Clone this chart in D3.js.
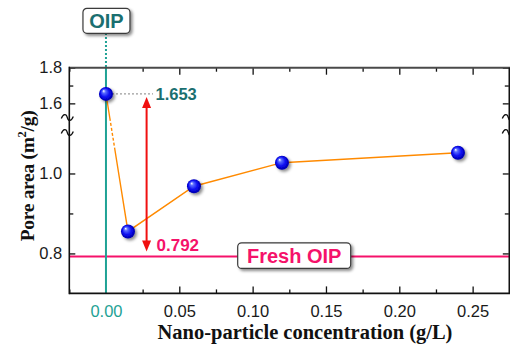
<!DOCTYPE html>
<html>
<head>
<meta charset="utf-8">
<script src="https://cdn.jsdelivr.net/npm/d3@7"></script>
<style>
  html, body { margin: 0; padding: 0; background: #fff; }
  svg { display: block; }
</style>
</head>
<body>
<svg id="chart" width="510" height="350"></svg>
<script>
// Pore area vs. nano-particle concentration
const concentration = [0.0, 0.015, 0.06, 0.12, 0.24];   // g/L
const poreArea      = [1.653, 0.855, 0.968, 1.027, 1.052]; // m²/g
const freshOIP      = 0.792;
const xMajorTicks   = [0.0, 0.05, 0.10, 0.15, 0.20, 0.25];
const xMinorTicks   = [-0.025, 0.025, 0.075, 0.125, 0.175, 0.225, 0.275];
const yMajorTicks   = [0.8, 1.0, 1.6, 1.8];
const yMinorTicks   = [0.9, 1.7];
const xTickLabels   = ["0.00", "0.05", "0.10", "0.15", "0.20", "0.25"];

const svg = d3.select("#chart");
const plotLeft = 69.3, plotRight = 509.3, plotTop = 67.7, plotBottom = 293.4;

const teal = "#1fa295", darkTeal = "#1a6f70", pink = "#f5126a", orange = "#ff8a00";

const x = d3.scaleLinear().domain([-0.025, 0.275]).range([plotLeft, plotRight]);
// broken y axis: lower segment 0.7–1.1, upper segment 1.5–1.8
const y = d3.scaleLinear().domain([0.7, 1.1, 1.5, 1.8]).range([plotBottom, 133.5, 121.2, plotTop]);

const defs = svg.append("defs");
const grad = defs.append("radialGradient").attr("id", "ball")
  .attr("cx", "50%").attr("cy", "50%").attr("r", "55%").attr("fx", "32%").attr("fy", "28%");
grad.append("stop").attr("offset", "0%").attr("stop-color", "#ffffff");
grad.append("stop").attr("offset", "22%").attr("stop-color", "#5a6cff");
grad.append("stop").attr("offset", "60%").attr("stop-color", "#0a0af0");
grad.append("stop").attr("offset", "100%").attr("stop-color", "#00009a");

const shadow = defs.append("filter").attr("id", "shadow")
  .attr("x", "-50%").attr("y", "-50%").attr("width", "200%").attr("height", "200%");
shadow.append("feDropShadow").attr("dx", 2).attr("dy", 2).attr("stdDeviation", 1.4)
  .attr("flood-color", "#000").attr("flood-opacity", 0.45);

// Fresh OIP reference line
svg.append("line")
  .attr("x1", plotLeft).attr("x2", plotRight).attr("y1", y(freshOIP)).attr("y2", y(freshOIP))
  .attr("stroke", pink).attr("stroke-width", 2);

// OIP vertical line at zero concentration
svg.append("line")
  .attr("x1", x(0)).attr("x2", x(0)).attr("y1", plotTop).attr("y2", plotBottom)
  .attr("stroke", teal).attr("stroke-width", 2);
svg.append("line")
  .attr("x1", x(0)).attr("x2", x(0)).attr("y1", 33).attr("y2", plotTop)
  .attr("stroke", teal).attr("stroke-width", 2).attr("stroke-dasharray", "2,2");

// axes
const fontSans = "'Liberation Sans', Arial, sans-serif";
function styleAxis(g) {
  g.select(".domain").remove();
  g.selectAll(".tick line").attr("stroke", "#111").attr("stroke-width", 1.3);
  g.selectAll(".tick text").attr("font-family", fontSans).attr("font-size", "16.5px").attr("fill", "#1a1a1a");
}

svg.append("g").attr("transform", `translate(0,${plotBottom})`)
  .call(d3.axisBottom(x).tickValues(xMajorTicks).tickSize(-7).tickPadding(11.5)
    .tickFormat((d, i) => xTickLabels[i]))
  .call(styleAxis)
  .call(g => g.selectAll(".tick text").filter(d => d === 0).attr("fill", teal))
  .call(g => g.selectAll(".tick line").filter(d => d === 0).remove());
svg.append("g").attr("transform", `translate(0,${plotBottom})`)
  .call(d3.axisBottom(x).tickValues(xMinorTicks).tickSize(-4).tickFormat(""))
  .call(styleAxis);

svg.append("g").attr("transform", `translate(0,${plotTop})`)
  .call(d3.axisTop(x).tickValues(xMajorTicks).tickSize(-7).tickFormat(""))
  .call(styleAxis)
  .call(g => g.selectAll(".tick line").filter(d => d === 0).remove());
svg.append("g").attr("transform", `translate(0,${plotTop})`)
  .call(d3.axisTop(x).tickValues(xMinorTicks).tickSize(-4).tickFormat(""))
  .call(styleAxis);

svg.append("g").attr("transform", `translate(${plotLeft},0)`)
  .call(d3.axisLeft(y).tickValues(yMajorTicks).tickSize(-6).tickPadding(7).tickFormat(d3.format(".1f")))
  .call(styleAxis);
svg.append("g").attr("transform", `translate(${plotLeft},0)`)
  .call(d3.axisLeft(y).tickValues(yMinorTicks).tickSize(-4).tickFormat(""))
  .call(styleAxis);

svg.append("g").attr("transform", `translate(${plotRight - 0.5},0)`)
  .call(d3.axisRight(y).tickValues(yMajorTicks).tickSize(-6).tickFormat(""))
  .call(styleAxis);
svg.append("g").attr("transform", `translate(${plotRight - 0.5},0)`)
  .call(d3.axisRight(y).tickValues(yMinorTicks).tickSize(-4).tickFormat(""))
  .call(styleAxis);

// frame
svg.append("line").attr("x1", plotLeft).attr("x2", plotRight + 2).attr("y1", plotTop).attr("y2", plotTop)
  .attr("stroke", "#4a4a4a").attr("stroke-width", 2);
svg.append("line").attr("x1", plotLeft).attr("x2", plotRight + 2).attr("y1", plotBottom).attr("y2", plotBottom)
  .attr("stroke", "#111").attr("stroke-width", 1.6);
svg.append("line").attr("x1", plotLeft).attr("x2", plotLeft).attr("y1", plotTop - 1).attr("y2", plotBottom + 0.8)
  .attr("stroke", "#111").attr("stroke-width", 1.6);
svg.append("line").attr("x1", plotRight).attr("x2", plotRight).attr("y1", plotTop).attr("y2", plotBottom)
  .attr("stroke", "#111").attr("stroke-width", 1.6);

// axis break marks
const breakY = [117.5, 132.5];
function tilde(cx, cy) {
  return `M${cx - 6},${cy + 1} C${cx - 4},${cy - 4} ${cx - 1},${cy - 4} ${cx},${cy} S${cx + 4},${cy + 4} ${cx + 6},${cy - 1}`;
}
breakY.forEach(by => {
  svg.append("path").attr("d", tilde(plotLeft - 2, by)).attr("fill", "none").attr("stroke", "#111").attr("stroke-width", 1.3);
  svg.append("path").attr("d", tilde(plotRight - 1, by)).attr("fill", "none").attr("stroke", "#111").attr("stroke-width", 1.3);
});

// data line (the first segment crosses the axis break and is dotted there)
const pts = concentration.map((c, i) => [x(c), y(poreArea[i])]);
const line = d3.line();
function lerpAtY(p, q, yy) {
  const t = (yy - p[1]) / (q[1] - p[1]);
  return [p[0] + t * (q[0] - p[0]), yy];
}
const pa = lerpAtY(pts[0], pts[1], 118), pb = lerpAtY(pts[0], pts[1], 148);
svg.append("path").attr("d", line([pts[0], pa])).attr("fill", "none").attr("stroke", orange).attr("stroke-width", 1.4);
svg.append("path").attr("d", line([pa, pb])).attr("fill", "none").attr("stroke", orange).attr("stroke-width", 1.4)
  .attr("stroke-dasharray", "3,2");
svg.append("path").attr("d", line([pb].concat(pts.slice(1)))).attr("fill", "none").attr("stroke", orange).attr("stroke-width", 1.4);

// dotted leader to the 1.653 label
svg.append("line")
  .attr("x1", x(0) + 6).attr("x2", 153).attr("y1", y(poreArea[0])).attr("y2", y(poreArea[0]))
  .attr("stroke", "#9a9a9a").attr("stroke-width", 1.3).attr("stroke-dasharray", "2,2");

// difference arrow between fresh and reference values
const arrowX = x(0.0277);
const arrowTop = y(poreArea[0]) + 3, arrowBot = y(freshOIP) - 5;
svg.append("line").attr("x1", arrowX).attr("x2", arrowX).attr("y1", arrowTop + 8).attr("y2", arrowBot - 8)
  .attr("stroke", "#f01010").attr("stroke-width", 2);
svg.append("path").attr("d", `M${arrowX},${arrowTop} L${arrowX - 4.5},${arrowTop + 11} L${arrowX + 4.5},${arrowTop + 11} Z`).attr("fill", "#f01010");
svg.append("path").attr("d", `M${arrowX},${arrowBot} L${arrowX - 4.5},${arrowBot - 11} L${arrowX + 4.5},${arrowBot - 11} Z`).attr("fill", "#f01010");

// value labels
svg.append("text").attr("x", 155.5).attr("y", y(poreArea[0]) + 6)
  .attr("font-family", fontSans).attr("font-weight", "bold").attr("font-size", "16.5px")
  .attr("fill", darkTeal).text(d3.format(".3f")(poreArea[0]));
svg.append("text").attr("x", 156.5).attr("y", y(freshOIP) - 5.5)
  .attr("font-family", fontSans).attr("font-weight", "bold").attr("font-size", "17px")
  .attr("fill", pink).text(d3.format(".3f")(freshOIP));

// markers
svg.append("g").selectAll("circle").data(pts).join("circle")
  .attr("cx", d => d[0]).attr("cy", d => d[1]).attr("r", 7)
  .attr("fill", "url(#ball)").attr("filter", "url(#shadow)");

// boxed labels
function boxLabel(cx, cy, w, h, txt, color) {
  const g = svg.append("g");
  g.append("rect").attr("x", cx - w / 2).attr("y", cy - h / 2).attr("width", w).attr("height", h)
    .attr("rx", 4).attr("fill", "#fff").attr("stroke", "#3a3a3a").attr("stroke-width", 1.2)
    .attr("filter", "url(#shadow)");
  g.append("text").attr("x", cx).attr("y", cy + 7).attr("text-anchor", "middle")
    .attr("font-family", fontSans).attr("font-weight", "bold").attr("font-size", "20px")
    .attr("fill", color).text(txt);
}
boxLabel(x(0) + 0.5, 20.8, 47, 25, "OIP", darkTeal);
boxLabel(294.2, y(freshOIP) - 1, 113, 25.6, "Fresh OIP", pink);

// axis titles
const fontSerif = "'Liberation Serif', 'Times New Roman', serif";
svg.append("text").attr("x", 305).attr("y", 338.5).attr("text-anchor", "middle")
  .attr("font-family", fontSerif).attr("font-weight", "bold").attr("font-size", "20.5px")
  .attr("fill", "#111").text("Nano-particle concentration (g/L)");

const yTitle = svg.append("text").attr("transform", "translate(33.5,176) rotate(-90)")
  .attr("text-anchor", "middle").attr("font-family", fontSerif).attr("font-weight", "bold")
  .attr("font-size", "19.5px").attr("letter-spacing", "-0.3px").attr("fill", "#111");
yTitle.append("tspan").text("Pore area (m");
yTitle.append("tspan").attr("font-size", "12.5px").attr("dy", "-7.5").text("2");
yTitle.append("tspan").attr("dy", "7.5").text("/g)");
</script>
</body>
</html>
